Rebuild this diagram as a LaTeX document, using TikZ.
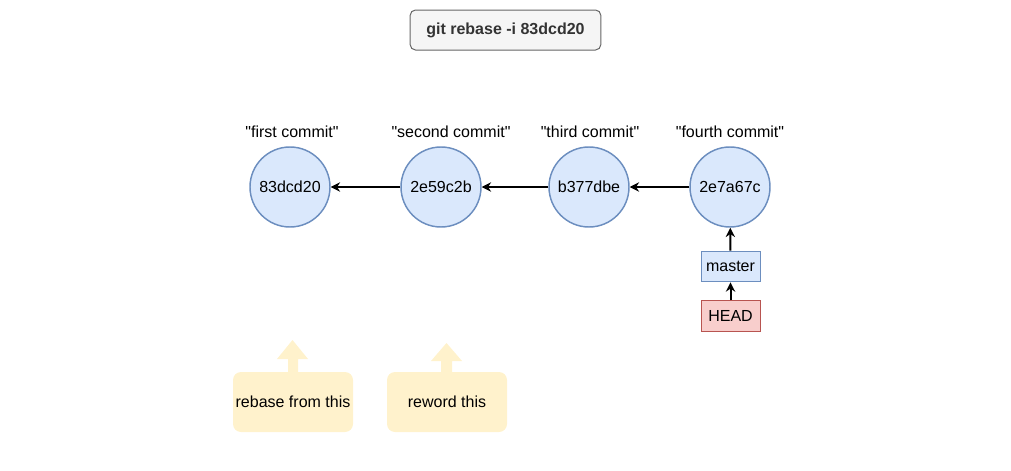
\documentclass[tikz,border=0pt]{standalone}
\usepackage{fontspec}
\setmainfont{Liberation Sans}
\usepackage{xcolor}
\usetikzlibrary{arrows.meta}

\definecolor{commitfill}{HTML}{DAE8FC}
\definecolor{commitline}{HTML}{6C8EBF}
\definecolor{headfill}{HTML}{F8CECC}
\definecolor{headline}{HTML}{B85450}
\definecolor{notefill}{HTML}{FFF2CC}
\definecolor{cmdfill}{HTML}{F5F5F5}
\definecolor{cmdline}{HTML}{666666}
\definecolor{cmdtext}{HTML}{333333}

\begin{document}
\begin{tikzpicture}[x=0.75pt,y=0.75pt,yscale=-1,xscale=1,
  every node/.style={font=\fontsize{12}{14}\selectfont},
  commit/.style={circle,draw=commitline,fill=commitfill,line width=1.1pt,minimum size=60pt,inner sep=0pt},
  branch/.style={rectangle,draw=commitline,fill=commitfill,line width=0.75pt,minimum width=44.25pt,minimum height=23pt,inner sep=0pt},
  headref/.style={rectangle,draw=headline,fill=headfill,line width=0.75pt,minimum width=44.25pt,minimum height=23pt,inner sep=0pt},
  note/.style={rectangle,rounded corners=6pt,fill=notefill,minimum width=90pt,minimum height=45pt,inner sep=0pt},
  link/.style={line width=1.5pt,-{Stealth[length=7pt,width=7pt]}}]

\useasboundingbox (0,0) rectangle (1011,471);

% command box
\node (cmd) at (505.5,30) [rectangle,rounded corners=4pt,draw=cmdline,fill=cmdfill,line width=0.75pt,minimum width=143pt,minimum height=30pt,text=cmdtext] {\bfseries git rebase -i 83dcd20};

% commits
\node (c1) at (290,187) [commit] {83dcd20};
\node (c2) at (441,187) [commit] {2e59c2b};
\node (c3) at (589,187) [commit] {b377dbe};
\node (c4) at (730,187) [commit] {2e7a67c};

\node (t1) at (292,132) {\textquotedbl first commit\textquotedbl};
\node (t2) at (451,132) {\textquotedbl second commit\textquotedbl};
\node (t3) at (590,132) {\textquotedbl third commit\textquotedbl};
\node (t4) at (730,132) {\textquotedbl fourth commit\textquotedbl};

\draw [link] (c2) -- (c1);
\draw [link] (c3) -- (c2);
\draw [link] (c4) -- (c3);

% refs
\node (master) at (730.5,266.5) [branch] {master};
\node (head) at (730.5,316) [headref] {HEAD};

\draw [link] (master) -- (c4);
\draw [link] (head) -- (master);

% notes
\fill [notefill] (288,373) -- (288,359) -- (277,359) -- (292.5,340) -- (308,359) -- (298,359) -- (298,373) -- cycle;
\node (n1) at (293,402) [note] {rebase from this};

\fill [notefill] (441,373) -- (441,361) -- (431,361) -- (446.5,343) -- (462,361) -- (452,361) -- (452,373) -- cycle;
\node (n2) at (447,402) [note] {reword this};

\end{tikzpicture}
\end{document}
